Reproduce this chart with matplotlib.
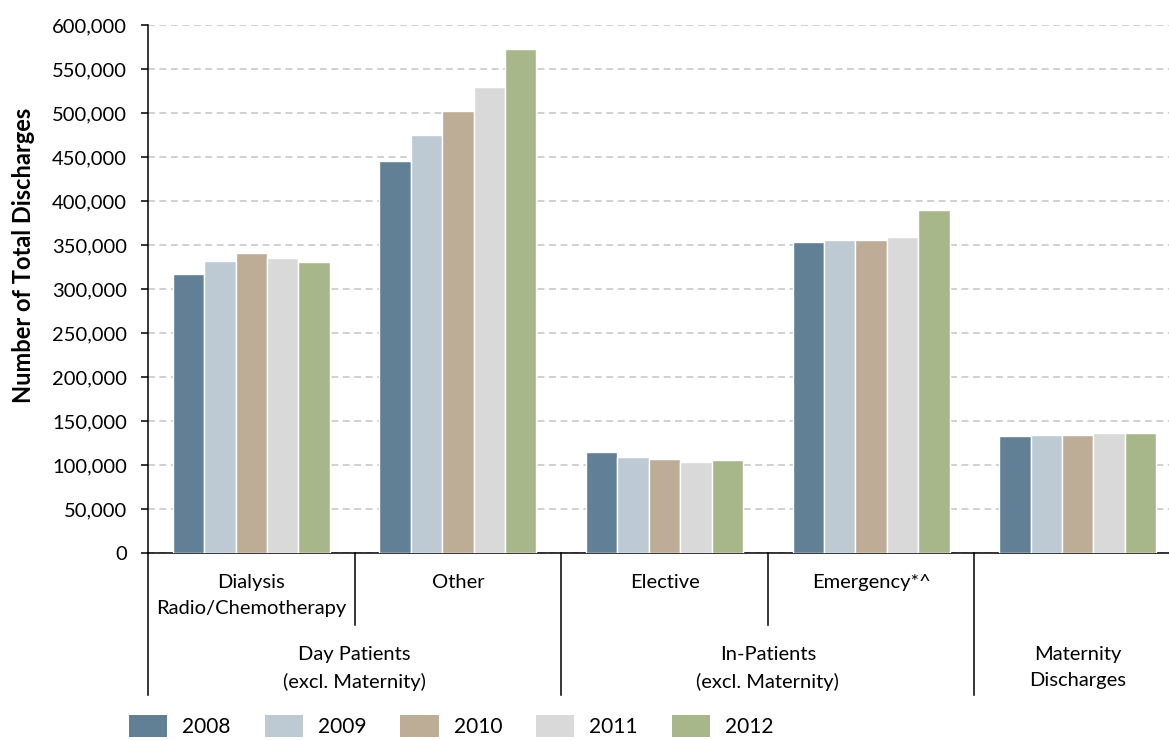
import matplotlib.pyplot as plt
from matplotlib.patches import Patch
from matplotlib.ticker import FuncFormatter

plt.rcParams['font.family'] = ['Lato', 'DejaVu Sans']

# sub categories (level 1) and their parent groups (level 2)
categories = ['Dialysis\nRadio/Chemotherapy', 'Other', 'Elective', 'Emergency*^', '']
groups = ['Day Patients\n(excl. Maternity)', 'In-Patients\n(excl. Maternity)',
          'Maternity\nDischarges']
group_spans = [(0, 1), (2, 3), (4, 4)]

years = ['2008', '2009', '2010', '2011', '2012']
colors = ['#617f95', '#bdcad3', '#bdac96', '#d9d9d9', '#a7b789']

v2008 = [316700, 445500, 114400, 353400, 133000]
v2009 = [331500, 474600, 108700, 355300, 134500]
v2010 = [340600, 502300, 106800, 355300, 134500]
v2011 = [334900, 529900, 103400, 359100, 136400]
v2012 = [331100, 572400, 105300, 390100, 136400]
values = [v2008, v2009, v2010, v2011, v2012]

fig = plt.figure(figsize=(11.69, 7.40), dpi=100)
ax = fig.add_axes([148/1169, 187/740, 1 - 148/1169, 528/740])

w = 0.152
x = range(len(categories))
for j, (yr, vals) in enumerate(zip(years, values)):
    ax.bar([i + (j - 2) * w for i in x], vals, width=w, color=colors[j],
           edgecolor='white', linewidth=1.0, label=yr, zorder=3)

ax.set_xlim(-0.5, -0.5 + 1021/206.6)
ax.set_ylim(0, 600000)
ax.set_yticks(range(0, 600001, 50000))
ax.yaxis.set_major_formatter(FuncFormatter(lambda v, p: '{:,.0f}'.format(v)))
ax.tick_params(axis='y', length=5, width=1.1, pad=10, labelsize=14.5)
ax.set_xticks([])
ax.yaxis.grid(True, linestyle=(0, (4.5, 3)), color='#c4c4c4', linewidth=1.1)
ax.set_axisbelow(True)
for s in ['top', 'right']:
    ax.spines[s].set_visible(False)
for s in ['left', 'bottom']:
    ax.spines[s].set_linewidth(1.1)

ax.set_ylabel('Number of Total Discharges', fontsize=17, fontweight='bold')
ax.yaxis.set_label_coords((35 - 148) / 1021, (553 - 255) / 528)

# multi level category axis
tr = ax.get_xaxis_transform()
def ay(py):
    return (553 - py) / 528

for b in [-0.5, 1.5, 3.5]:
    ax.plot([b, b], [0, ay(695)], color='black', lw=1.1, transform=tr, clip_on=False)
for b in [0.5, 2.5]:
    ax.plot([b, b], [0, ay(625)], color='black', lw=1.1, transform=tr, clip_on=False)

for i, c in enumerate(categories):
    ax.text(i, ay(574), c, transform=tr, ha='center', va='top', fontsize=14.5,
            linespacing=1.65)
for g, (a, b) in zip(groups, group_spans):
    ax.text((a + b) / 2, ay(646), g, transform=tr, ha='center', va='top',
            fontsize=14.5, linespacing=1.65)

handles = [Patch(facecolor=c, edgecolor='none') for c in colors]
fig.legend(handles, years, loc='center left', bbox_to_anchor=(129/1169, 14/740),
           ncol=5, frameon=False, fontsize=15, handlelength=1.83,
           handleheight=1.3, handletextpad=0.72, columnspacing=1.64,
           borderpad=0, borderaxespad=0)

fig.savefig('out.png', dpi=100)
